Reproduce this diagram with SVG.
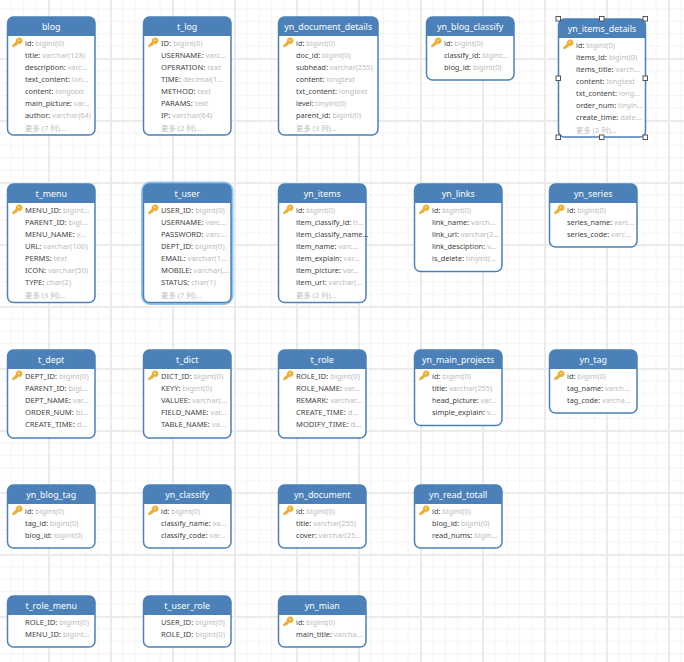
<svg xmlns="http://www.w3.org/2000/svg" width="684" height="662" viewBox="0 0 684 662">
<style>
.box{fill:#fff;stroke:#4b81b8;stroke-width:1.5}
.hd{fill:#4b81b8}
.t{font:8.9px "Noto Sans","Liberation Sans",sans-serif;fill:#fff;text-anchor:middle}
.r{font:7.35px "Noto Sans","Liberation Sans",sans-serif;fill:#444}
.r tspan{fill:#bcbcbc}
#t_log .r,#t_menu .r,#t_user .r,#t_dept .r,#t_dict .r,#t_role .r,#t_role_menu .r,#t_user_role .r{font-size:7.6px}
.m{font:7.4px "Noto Sans","Noto Sans CJK SC",sans-serif;fill:#bcbcbc}
.glow{fill:none;stroke:#90c4f2;stroke-width:4}
.h{fill:#fff;stroke:#555;stroke-width:1}
</style>
<defs>
<pattern id="minor" width="12.4" height="12.4" patternUnits="userSpaceOnUse" x="-1.6" y="-4"><path d="M12.4 0H0V12.4" fill="none" stroke="#f4f4f4" stroke-width="2"/></pattern>
<pattern id="major" width="62" height="62" patternUnits="userSpaceOnUse" x="48" y="-4"><path d="M62 0H0V62" fill="none" stroke="#ebebeb" stroke-width="4"/></pattern>
<g id="key" transform="scale(.85)"><path d="M0.6 9.2L5 4.8A3.6 3.6 0 1 1 7.4 7.2L6.2 7.4V8.6H5V9.8H3.6L2.4 11H0.6Z" fill="#eeb02d" stroke="#cf9120" stroke-width=".4"/><circle cx="8.2" cy="3.3" r="1" fill="#fbe7a8"/></g>
</defs>
<rect width="684" height="662" fill="#fff"/>
<rect width="684" height="662" fill="url(#minor)"/>
<rect width="684" height="662" fill="url(#major)"/>
<g id="connectors"/>

<g id="blog"><rect class="box" x="7.5" y="17" width="87.5" height="118" rx="6"/><path class="hd" d="M7.5 36V23a6 6 0 0 1 6-6H89a6 6 0 0 1 6 6V36Z"/><text class="t" x="51.2" y="30">blog</text><use href="#key" x="12" y="37.5"/>
<text class="r" x="25" y="45.5">id: <tspan>bigint(0)</tspan></text><text class="r" x="25" y="57.5">title: <tspan>varchar(128)</tspan></text><text class="r" x="25" y="69.5">description: <tspan>varc...</tspan></text><text class="r" x="25" y="81.5">text_content: <tspan>lon...</tspan></text><text class="r" x="25" y="94">content: <tspan>longtext</tspan></text><text class="r" x="25" y="106">main_picture: <tspan>var...</tspan></text><text class="r" x="25" y="118">author: <tspan>varchar(64)</tspan></text><text class="m" x="25" y="130.5">更多 (7 列)...</text></g>

<g id="t_log"><rect class="box" x="143.5" y="17" width="87.5" height="118" rx="6"/><path class="hd" d="M143.5 36V23a6 6 0 0 1 6-6H225a6 6 0 0 1 6 6V36Z"/><text class="t" x="187.2" y="30">t_log</text><use href="#key" x="148" y="37.5"/>
<text class="r" x="161" y="45.5">ID: <tspan>bigint(0)</tspan></text><text class="r" x="161" y="57.5">USERNAME: <tspan>varc...</tspan></text><text class="r" x="161" y="69.5">OPERATION: <tspan>text</tspan></text><text class="r" x="161" y="81.5">TIME: <tspan>decimal(1...</tspan></text><text class="r" x="161" y="94">METHOD: <tspan>text</tspan></text><text class="r" x="161" y="106">PARAMS: <tspan>text</tspan></text><text class="r" x="161" y="118">IP: <tspan>varchar(64)</tspan></text><text class="m" x="161" y="130.5">更多 (2 列)...</text></g>

<g id="yn_document_details"><rect class="box" x="278.5" y="17" width="99.5" height="118" rx="6"/><path class="hd" d="M278.5 36V23a6 6 0 0 1 6-6H372a6 6 0 0 1 6 6V36Z"/><text class="t" x="328.2" y="30">yn_document_details</text><use href="#key" x="283" y="37.5"/>
<text class="r" x="296" y="45.5">id: <tspan>bigint(0)</tspan></text><text class="r" x="296" y="57.5">doc_id: <tspan>bigint(0)</tspan></text><text class="r" x="296" y="69.5">subhead: <tspan>varchar(255)</tspan></text><text class="r" x="296" y="81.5">content: <tspan>longtext</tspan></text><text class="r" x="296" y="94">txt_content: <tspan>longtext</tspan></text><text class="r" x="296" y="106">level: <tspan>tinyint(0)</tspan></text><text class="r" x="296" y="118">parent_id: <tspan>bigint(0)</tspan></text><text class="m" x="296" y="130.5">更多 (3 列)...</text></g>

<g id="yn_blog_classify"><rect class="box" x="426.5" y="17" width="87.5" height="63" rx="6"/><path class="hd" d="M426.5 36V23a6 6 0 0 1 6-6H508a6 6 0 0 1 6 6V36Z"/><text class="t" x="470.2" y="30">yn_blog_classify</text><use href="#key" x="431" y="37.5"/>
<text class="r" x="444" y="45.5">id: <tspan>bigint(0)</tspan></text><text class="r" x="444" y="57.5">classify_id: <tspan>bigint...</tspan></text><text class="r" x="444" y="69.5">blog_id: <tspan>bigint(0)</tspan></text></g>

<g id="yn_items_details"><rect class="box" x="558.5" y="19" width="87" height="118" rx="6"/><path class="hd" d="M558.5 38V25a6 6 0 0 1 6-6H639.5a6 6 0 0 1 6 6V38Z"/><text class="t" x="602" y="32">yn_items_details</text><use href="#key" x="563" y="39.5"/>
<text class="r" x="576" y="47.5">id: <tspan>bigint(0)</tspan></text><text class="r" x="576" y="59.5">items_id: <tspan>bigint(0)</tspan></text><text class="r" x="576" y="71.5">items_title: <tspan>varch...</tspan></text><text class="r" x="576" y="83.5">content: <tspan>longtext</tspan></text><text class="r" x="576" y="96">txt_content: <tspan>long...</tspan></text><text class="r" x="576" y="108">order_num: <tspan>tinyin...</tspan></text><text class="r" x="576" y="120">create_time: <tspan>date...</tspan></text><text class="m" x="576" y="132.5">更多 (2 列)...</text>
<rect class="h" x="556" y="16.5" width="4.5" height="4.5"/><rect class="h" x="599.5" y="16.5" width="4.5" height="4.5"/><rect class="h" x="643" y="16.5" width="4.5" height="4.5"/><rect class="h" x="556" y="76" width="4.5" height="4.5"/><rect class="h" x="643" y="76" width="4.5" height="4.5"/><rect class="h" x="556" y="135" width="4.5" height="4.5"/><rect class="h" x="599.5" y="135" width="4.5" height="4.5"/><rect class="h" x="643" y="135" width="4.5" height="4.5"/></g>

<g id="t_menu"><rect class="box" x="7.5" y="184" width="87.5" height="118.5" rx="6"/><path class="hd" d="M7.5 203V190a6 6 0 0 1 6-6H89a6 6 0 0 1 6 6V203Z"/><text class="t" x="51.2" y="197">t_menu</text><use href="#key" x="12" y="204.5"/>
<text class="r" x="25" y="212.5">MENU_ID: <tspan>bigint...</tspan></text><text class="r" x="25" y="224.5">PARENT_ID: <tspan>bigi...</tspan></text><text class="r" x="25" y="236.5">MENU_NAME: <tspan>v...</tspan></text><text class="r" x="25" y="248.5">URL: <tspan>varchar(100)</tspan></text><text class="r" x="25" y="261">PERMS: <tspan>text</tspan></text><text class="r" x="25" y="273">ICON: <tspan>varchar(50)</tspan></text><text class="r" x="25" y="285">TYPE: <tspan>char(2)</tspan></text><text class="m" x="25" y="297.5">更多 (3 列)...</text></g>

<g id="t_user"><rect class="glow" x="143" y="183.5" width="88.5" height="119.5" rx="7"/><rect class="box" x="143.5" y="184" width="87.5" height="118.5" rx="6"/><path class="hd" d="M143.5 203V190a6 6 0 0 1 6-6H225a6 6 0 0 1 6 6V203Z"/><text class="t" x="187.2" y="197">t_user</text><use href="#key" x="148" y="204.5"/>
<text class="r" x="161" y="212.5">USER_ID: <tspan>bigint(0)</tspan></text><text class="r" x="161" y="224.5">USERNAME: <tspan>varc...</tspan></text><text class="r" x="161" y="236.5">PASSWORD: <tspan>varc...</tspan></text><text class="r" x="161" y="248.5">DEPT_ID: <tspan>bigint(0)</tspan></text><text class="r" x="161" y="261">EMAIL: <tspan>varchar(1...</tspan></text><text class="r" x="161" y="273">MOBILE: <tspan>varchar(...</tspan></text><text class="r" x="161" y="285">STATUS: <tspan>char(1)</tspan></text><text class="m" x="161" y="297.5">更多 (7 列)...</text></g>

<g id="yn_items"><rect class="box" x="278.5" y="184" width="87.5" height="118.5" rx="6"/><path class="hd" d="M278.5 203V190a6 6 0 0 1 6-6H360a6 6 0 0 1 6 6V203Z"/><text class="t" x="322.2" y="197">yn_items</text><use href="#key" x="283" y="204.5"/>
<text class="r" x="296" y="212.5">id: <tspan>bigint(0)</tspan></text><text class="r" x="296" y="224.5">item_classify_id: <tspan>ti...</tspan></text><text class="r" x="296" y="236.5">item_classify_name...</text><text class="r" x="296" y="248.5">item_name: <tspan>varc...</tspan></text><text class="r" x="296" y="261">item_explain: <tspan>var...</tspan></text><text class="r" x="296" y="273">item_picture: <tspan>var...</tspan></text><text class="r" x="296" y="285">item_url: <tspan>varchar(...</tspan></text><text class="m" x="296" y="297.5">更多 (2 列)...</text></g>

<g id="yn_links"><rect class="box" x="414.5" y="184" width="87.5" height="87.5" rx="6"/><path class="hd" d="M414.5 203V190a6 6 0 0 1 6-6H496a6 6 0 0 1 6 6V203Z"/><text class="t" x="458.2" y="197">yn_links</text><use href="#key" x="419" y="204.5"/>
<text class="r" x="432" y="212.5">id: <tspan>bigint(0)</tspan></text><text class="r" x="432" y="224.5">link_name: <tspan>varch...</tspan></text><text class="r" x="432" y="236.5">link_url: <tspan>varchar(2...</tspan></text><text class="r" x="432" y="248.5">link_desciption: <tspan>v...</tspan></text><text class="r" x="432" y="261">is_delete: <tspan>tinyint(...</tspan></text></g>

<g id="yn_series"><rect class="box" x="549.5" y="184" width="87.5" height="63" rx="6"/><path class="hd" d="M549.5 203V190a6 6 0 0 1 6-6H631a6 6 0 0 1 6 6V203Z"/><text class="t" x="593.2" y="197">yn_series</text><use href="#key" x="554" y="204.5"/>
<text class="r" x="567" y="212.5">id: <tspan>bigint(0)</tspan></text><text class="r" x="567" y="224.5">series_name: <tspan>varc...</tspan></text><text class="r" x="567" y="236.5">series_code: <tspan>varc...</tspan></text></g>

<g id="t_dept"><rect class="box" x="7.5" y="350" width="87.5" height="88" rx="6"/><path class="hd" d="M7.5 369V356a6 6 0 0 1 6-6H89a6 6 0 0 1 6 6V369Z"/><text class="t" x="51.2" y="363">t_dept</text><use href="#key" x="12" y="370.5"/>
<text class="r" x="25" y="378.5">DEPT_ID: <tspan>bigint(0)</tspan></text><text class="r" x="25" y="390.5">PARENT_ID: <tspan>bigi...</tspan></text><text class="r" x="25" y="402.5">DEPT_NAME: <tspan>var...</tspan></text><text class="r" x="25" y="414.5">ORDER_NUM: <tspan>bi...</tspan></text><text class="r" x="25" y="427">CREATE_TIME: <tspan>d...</tspan></text></g>

<g id="t_dict"><rect class="box" x="143.5" y="350" width="87.5" height="88" rx="6"/><path class="hd" d="M143.5 369V356a6 6 0 0 1 6-6H225a6 6 0 0 1 6 6V369Z"/><text class="t" x="187.2" y="363">t_dict</text><use href="#key" x="148" y="370.5"/>
<text class="r" x="161" y="378.5">DICT_ID: <tspan>bigint(0)</tspan></text><text class="r" x="161" y="390.5">KEYY: <tspan>bigint(0)</tspan></text><text class="r" x="161" y="402.5">VALUEE: <tspan>varchar(...</tspan></text><text class="r" x="161" y="414.5">FIELD_NAME: <tspan>var...</tspan></text><text class="r" x="161" y="427">TABLE_NAME: <tspan>va...</tspan></text></g>

<g id="t_role"><rect class="box" x="278.5" y="350" width="87.5" height="88" rx="6"/><path class="hd" d="M278.5 369V356a6 6 0 0 1 6-6H360a6 6 0 0 1 6 6V369Z"/><text class="t" x="322.2" y="363">t_role</text><use href="#key" x="283" y="370.5"/>
<text class="r" x="296" y="378.5">ROLE_ID: <tspan>bigint(0)</tspan></text><text class="r" x="296" y="390.5">ROLE_NAME: <tspan>var...</tspan></text><text class="r" x="296" y="402.5">REMARK: <tspan>varchar...</tspan></text><text class="r" x="296" y="414.5">CREATE_TIME: <tspan>d...</tspan></text><text class="r" x="296" y="427">MODIFY_TIME: <tspan>d...</tspan></text></g>

<g id="yn_main_projects"><rect class="box" x="414.5" y="350" width="87.5" height="75.5" rx="6"/><path class="hd" d="M414.5 369V356a6 6 0 0 1 6-6H496a6 6 0 0 1 6 6V369Z"/><text class="t" x="458.2" y="363">yn_main_projects</text><use href="#key" x="419" y="370.5"/>
<text class="r" x="432" y="378.5">id: <tspan>bigint(0)</tspan></text><text class="r" x="432" y="390.5">title: <tspan>varchar(255)</tspan></text><text class="r" x="432" y="402.5">head_picture: <tspan>var...</tspan></text><text class="r" x="432" y="414.5">simple_explain: <tspan>v...</tspan></text></g>

<g id="yn_tag"><rect class="box" x="549.5" y="350" width="87.5" height="63" rx="6"/><path class="hd" d="M549.5 369V356a6 6 0 0 1 6-6H631a6 6 0 0 1 6 6V369Z"/><text class="t" x="593.2" y="363">yn_tag</text><use href="#key" x="554" y="370.5"/>
<text class="r" x="567" y="378.5">id: <tspan>bigint(0)</tspan></text><text class="r" x="567" y="390.5">tag_name: <tspan>varch...</tspan></text><text class="r" x="567" y="402.5">tag_code: <tspan>varcha...</tspan></text></g>

<g id="yn_blog_tag"><rect class="box" x="7.5" y="485" width="87.5" height="63" rx="6"/><path class="hd" d="M7.5 504V491a6 6 0 0 1 6-6H89a6 6 0 0 1 6 6V504Z"/><text class="t" x="51.2" y="498">yn_blog_tag</text><use href="#key" x="12" y="505.5"/>
<text class="r" x="25" y="513.5">id: <tspan>bigint(0)</tspan></text><text class="r" x="25" y="525.5">tag_id: <tspan>bigint(0)</tspan></text><text class="r" x="25" y="537.5">blog_id: <tspan>bigint(0)</tspan></text></g>

<g id="yn_classify"><rect class="box" x="143.5" y="485" width="87.5" height="63" rx="6"/><path class="hd" d="M143.5 504V491a6 6 0 0 1 6-6H225a6 6 0 0 1 6 6V504Z"/><text class="t" x="187.2" y="498">yn_classify</text><use href="#key" x="148" y="505.5"/>
<text class="r" x="161" y="513.5">id: <tspan>bigint(0)</tspan></text><text class="r" x="161" y="525.5">classify_name: <tspan>va...</tspan></text><text class="r" x="161" y="537.5">classify_code: <tspan>var...</tspan></text></g>

<g id="yn_document"><rect class="box" x="278.5" y="485" width="87.5" height="63" rx="6"/><path class="hd" d="M278.5 504V491a6 6 0 0 1 6-6H360a6 6 0 0 1 6 6V504Z"/><text class="t" x="322.2" y="498">yn_document</text><use href="#key" x="283" y="505.5"/>
<text class="r" x="296" y="513.5">id: <tspan>bigint(0)</tspan></text><text class="r" x="296" y="525.5">title: <tspan>varchar(255)</tspan></text><text class="r" x="296" y="537.5">cover: <tspan>varchar(25...</tspan></text></g>

<g id="yn_read_totall"><rect class="box" x="414.5" y="485" width="87.5" height="63" rx="6"/><path class="hd" d="M414.5 504V491a6 6 0 0 1 6-6H496a6 6 0 0 1 6 6V504Z"/><text class="t" x="458.2" y="498">yn_read_totall</text><use href="#key" x="419" y="505.5"/>
<text class="r" x="432" y="513.5">id: <tspan>bigint(0)</tspan></text><text class="r" x="432" y="525.5">blog_id: <tspan>bigint(0)</tspan></text><text class="r" x="432" y="537.5">read_nums: <tspan>bigin...</tspan></text></g>

<g id="t_role_menu"><rect class="box" x="7.5" y="596" width="87.5" height="51" rx="6"/><path class="hd" d="M7.5 615V602a6 6 0 0 1 6-6H89a6 6 0 0 1 6 6V615Z"/><text class="t" x="51.2" y="609">t_role_menu</text>
<text class="r" x="25" y="624.5">ROLE_ID: <tspan>bigint(0)</tspan></text><text class="r" x="25" y="636.5">MENU_ID: <tspan>bigint...</tspan></text></g>

<g id="t_user_role"><rect class="box" x="143.5" y="596" width="87.5" height="51" rx="6"/><path class="hd" d="M143.5 615V602a6 6 0 0 1 6-6H225a6 6 0 0 1 6 6V615Z"/><text class="t" x="187.2" y="609">t_user_role</text>
<text class="r" x="161" y="624.5">USER_ID: <tspan>bigint(0)</tspan></text><text class="r" x="161" y="636.5">ROLE_ID: <tspan>bigint(0)</tspan></text></g>

<g id="yn_mian"><rect class="box" x="278.5" y="596" width="87.5" height="51" rx="6"/><path class="hd" d="M278.5 615V602a6 6 0 0 1 6-6H360a6 6 0 0 1 6 6V615Z"/><text class="t" x="322.2" y="609">yn_mian</text><use href="#key" x="283" y="616.5"/>
<text class="r" x="296" y="624.5">id: <tspan>bigint(0)</tspan></text><text class="r" x="296" y="636.5">main_title: <tspan>varcha...</tspan></text></g>
</svg>
